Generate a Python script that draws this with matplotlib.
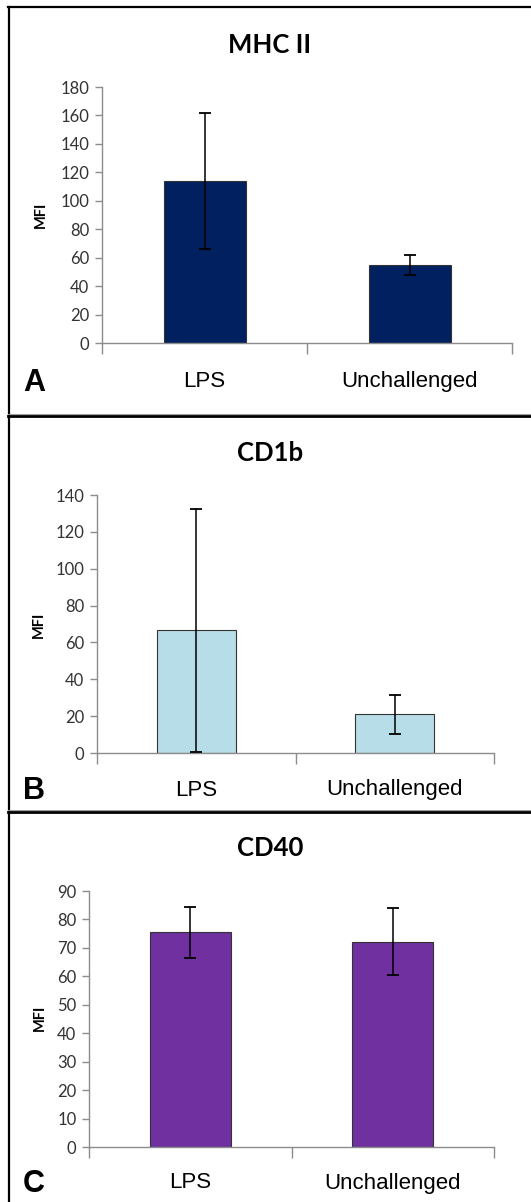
import matplotlib
matplotlib.use('Agg')
import matplotlib.pyplot as plt
from matplotlib.lines import Line2D
from matplotlib.ticker import MultipleLocator, FixedLocator

W, H = 531, 1202

# Data
groups = ['LPS', 'Unchallenged']
titles = ['MHC II', 'CD1b', 'CD40']
letters = ['A', 'B', 'C']
mhc_mean = [114, 55]
mhc_err = [48, 7]
cd1b_mean = [66.5, 21]
cd1b_err = [66, 10.5]
cd40_mean = [75.5, 72.2]
cd40_err = [9, 11.8]
colors = ['#002060', '#B7DEE8', '#7030A0']
ymaxes = [180, 140, 90]
ysteps = [20, 20, 10]

means = [mhc_mean, cd1b_mean, cd40_mean]
errs = [mhc_err, cd1b_err, cd40_err]

# panel layout in pixels: left, right, top, bottom of the axes
boxes = [(102, 512, 87, 343), (97, 494, 495, 753), (89, 494, 891, 1147)]
title_y = [45, 453, 848]
label_y = [382, 790, 1183]
mfi_pos = [(41, 215), (39, 625), (40, 1018)]

fig = plt.figure(figsize=(W / 100, H / 100), dpi=100)


def fx(x):
    return x / W


def fy(y):
    return 1 - y / H


for i in range(3):
    l, r, t, b = boxes[i]
    ax = fig.add_axes([fx(l), fy(b), (r - l) / W, (b - t) / H])
    ax.bar(range(2), means[i], width=0.4, color=colors[i], edgecolor='#333333',
           linewidth=0.8, zorder=2)
    ax.errorbar(range(2), means[i], yerr=errs[i], fmt='none', ecolor='black',
                elinewidth=1.1, capsize=4, capthick=1.3, zorder=3)
    ax.set_xlim(-0.5, 1.5)
    ax.set_ylim(0, ymaxes[i])
    ax.yaxis.set_major_locator(MultipleLocator(ysteps[i]))
    for s in ['top', 'right']:
        ax.spines[s].set_visible(False)
    for s in ['left', 'bottom']:
        ax.spines[s].set_color('#8c8c8c')
        ax.spines[s].set_linewidth(1)
    ax.tick_params(axis='y', direction='out', length=5, width=1, color='#8c8c8c',
                   labelsize=12, labelcolor='#333333', pad=4)
    for lab in ax.get_yticklabels():
        lab.set_fontfamily('Lato')
    ax.set_xticks([])
    ax.xaxis.set_minor_locator(FixedLocator([-0.5, 0.5, 1.5]))
    ax.tick_params(axis='x', which='minor', direction='out', length=8, width=1,
                   color='#8c8c8c')
    for j, g in enumerate(groups):
        xc = l + (r - l) * (j + 0.5) / 2
        fig.text(fx(xc), fy(label_y[i]), g, ha='center', va='center',
                 fontsize=16, family='Liberation Sans', color='black')
    fig.text(fx(270), fy(title_y[i]), titles[i], ha='center', va='center',
             fontsize=18.5, fontweight='bold', family='Lato')
    fig.text(fx(mfi_pos[i][0]), fy(mfi_pos[i][1]), 'MFI', ha='center', va='center',
             rotation=90, fontsize=10.5, fontweight='bold', family='Lato')
    fig.text(fx(23), fy(label_y[i] + 1), letters[i], ha='left', va='center',
             fontsize=22, fontweight='bold', family='Liberation Sans')

# panel borders
border = dict(color='black', linewidth=1.6, transform=fig.transFigure)
fig.add_artist(Line2D([fx(8.5), fx(8.5)], [fy(7), fy(H)], **border))
fig.add_artist(Line2D([fx(8), fx(W)], [fy(7), fy(7)], **border))
fig.add_artist(Line2D([fx(8), fx(W)], [fy(416), fy(416)], color='black',
                      linewidth=2, transform=fig.transFigure))
fig.add_artist(Line2D([fx(8), fx(W)], [fy(413.5), fy(413.5)], color='#999999',
                      linewidth=0.7, transform=fig.transFigure))
fig.add_artist(Line2D([fx(8), fx(W)], [fy(812), fy(812)], color='black',
                      linewidth=2, transform=fig.transFigure))
fig.add_artist(Line2D([fx(8), fx(W)], [fy(809.5), fy(809.5)], color='#999999',
                      linewidth=0.7, transform=fig.transFigure))

fig.savefig('out.png', dpi=100)
